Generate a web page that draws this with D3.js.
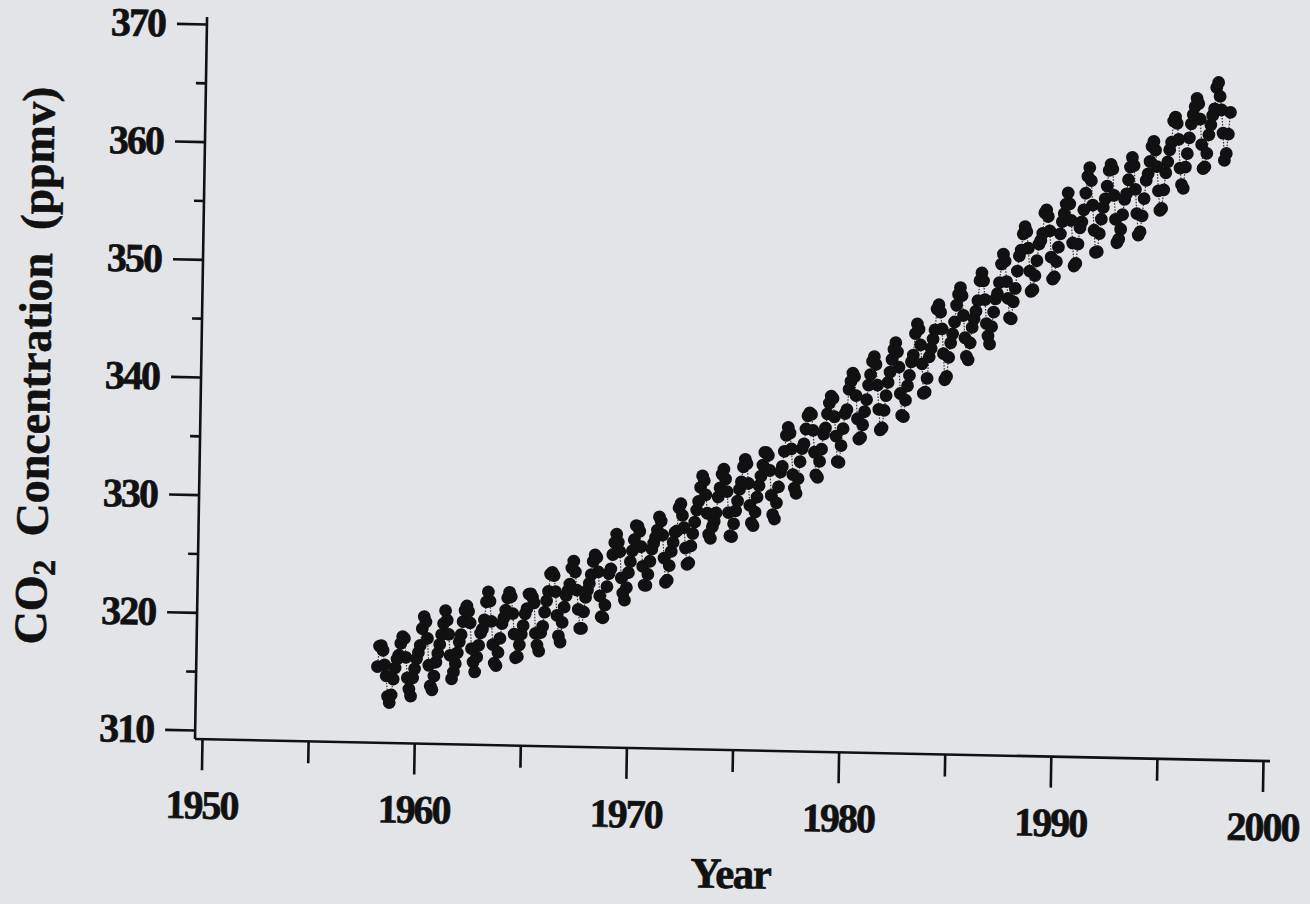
<!DOCTYPE html>
<html><head><meta charset="utf-8">
<script src="https://cdn.jsdelivr.net/npm/d3@7"></script>
<style>
html,body{margin:0;padding:0;background:#e3e4e8;}
svg{display:block;}
</style>
</head><body>
<svg id="chart" width="1310" height="904"></svg>
<script>
// Monthly CO2 at Mauna Loa (ppmv), Jan..Dec for each year; null = no data
const co2_1958_1959 = [
  null,null,315.71,317.45,317.50,317.10,315.86,314.93,313.20,312.66,313.33,314.67,
  315.62,316.38,316.71,317.72,318.29,318.15,316.54,314.80,313.84,313.26,314.80,315.58
];
const co2_1960s = [
  316.43,316.97,317.58,319.02,320.03,319.59,318.18,315.91,314.16,313.83,315.00,316.19,
  316.93,317.70,318.54,319.48,320.58,319.77,318.57,316.79,314.80,315.38,316.10,317.01,
  317.94,318.56,319.68,320.63,321.01,320.55,319.58,317.40,316.26,315.42,316.69,317.69,
  318.74,319.08,319.86,321.39,322.25,321.47,319.74,317.77,316.21,315.99,317.12,318.31,
  319.57,320.07,320.73,321.77,322.25,321.89,320.44,318.70,316.70,316.79,317.79,318.71,
  319.44,320.44,320.89,322.13,322.16,321.87,321.39,318.81,317.81,317.30,318.87,319.42,
  320.62,321.59,322.39,323.87,324.01,323.75,322.39,320.37,318.64,318.10,319.79,321.08,
  322.07,322.50,323.04,324.42,325.00,324.09,322.55,320.92,319.31,319.31,320.72,321.96,
  322.57,323.15,323.89,325.02,325.57,325.36,324.14,322.11,320.33,320.25,321.32,322.90,
  324.00,324.42,325.64,326.66,327.38,326.70,325.89,323.67,322.38,321.78,322.85,324.12
];
const co2_1970s = [
  325.06,325.98,326.93,328.13,328.07,327.66,326.35,324.69,323.10,323.07,324.01,325.13,
  326.17,326.68,327.18,327.78,328.92,328.57,327.37,325.43,323.36,323.56,324.80,326.01,
  326.77,327.63,327.75,329.72,330.07,329.09,328.05,326.32,324.93,325.06,326.50,327.55,
  328.54,329.56,330.30,331.50,332.48,332.07,330.87,329.31,327.51,327.18,328.16,328.64,
  329.35,330.71,331.48,332.65,333.09,332.25,331.18,329.40,327.43,327.37,328.46,329.57,
  330.40,331.40,332.04,333.31,333.96,333.59,331.91,330.06,328.56,328.34,329.49,330.76,
  331.75,332.56,333.50,334.58,334.57,334.34,333.05,330.94,329.30,328.94,330.31,331.68,
  332.93,333.42,334.70,336.07,336.75,336.27,334.92,332.75,331.59,331.16,332.40,333.85,
  334.97,335.38,336.64,337.76,338.01,337.89,336.54,334.68,332.76,332.55,333.92,334.95,
  336.23,336.76,337.96,338.88,339.47,339.29,337.73,336.09,333.92,333.86,335.29,336.73
];
const co2_1980s = [
  338.01,338.36,340.08,340.77,341.46,341.17,339.56,337.60,335.88,336.02,337.10,338.21,
  339.24,340.48,341.38,342.51,342.91,342.25,340.49,338.43,336.69,336.86,338.36,339.61,
  340.75,341.61,342.70,343.56,344.13,343.35,342.06,339.82,337.97,337.86,339.26,340.49,
  341.38,342.52,343.10,344.94,345.76,345.32,343.98,342.38,339.87,339.99,341.15,342.99,
  343.70,344.50,345.28,347.06,347.43,346.80,345.39,343.28,341.07,341.35,342.98,344.22,
  344.97,345.99,347.42,348.35,348.93,348.25,346.56,344.67,343.09,342.80,344.24,345.56,
  346.30,346.95,347.85,349.55,350.21,349.54,347.94,345.91,344.86,344.17,345.66,346.90,
  348.02,348.47,349.42,350.99,351.84,351.25,349.52,348.10,346.44,346.36,347.81,348.96,
  350.43,351.72,352.22,353.59,354.22,353.79,352.39,350.44,348.72,348.88,350.07,351.34,
  352.76,353.07,353.68,355.42,355.67,355.12,353.90,351.67,349.80,349.99,351.30,352.53
];
const co2_1990s = [
  353.66,354.70,355.39,356.20,357.16,356.22,354.82,352.91,350.96,351.18,352.83,354.21,
  354.72,355.75,357.16,358.60,359.34,358.24,356.17,354.03,352.16,352.21,353.75,354.99,
  355.98,356.72,357.81,359.15,359.66,359.25,357.02,355.00,353.01,353.31,354.16,355.40,
  356.70,357.17,358.38,359.46,360.28,359.60,357.57,355.52,353.70,353.98,355.33,356.80,
  358.36,358.91,359.97,361.26,361.69,360.94,359.55,357.49,355.84,356.00,357.58,359.04,
  359.97,361.00,361.64,363.45,363.79,363.26,361.90,359.46,358.06,357.75,359.56,360.70,
  362.05,363.24,364.02,364.71,365.41,364.97,363.65,361.49,359.46,359.60,360.76,362.33,
  363.18,363.99,364.56,366.36,366.80,365.63,364.47,362.50,360.19,360.78,362.43,364.28
];
const firstYear = 1958;

const xMajorTicks = [1950, 1960, 1970, 1980, 1990, 2000];
const xMinorTicks = [1955, 1965, 1975, 1985, 1995];
const yMajorTicks = [310, 320, 330, 340, 350, 360, 370];
const yMinorTicks = [315, 325, 335, 345, 355, 365];
const xTitle = "Year";

// build series
const allValues = [].concat(co2_1958_1959, co2_1960s, co2_1970s, co2_1980s, co2_1990s);
const series = allValues.map((v, i) => ({
  t: firstYear + Math.floor(i / 12) + ((i % 12) + 0.5) / 12,
  v: v
})).filter(d => d.v != null);

const svg = d3.select("#chart");
svg.append("rect").attr("width", 1310).attr("height", 904).attr("fill", "#e3e4e8");

// the scanned figure is slightly skewed
const g = svg.append("g")
  .attr("transform", "translate(195,739) matrix(1,0.0206,-0.0167,1,0,0)");

const x = d3.scaleLinear().domain([1950, 2000]).range([7, 1068]);
const y = d3.scaleLinear().domain([310, 370]).range([-9, -715]);

const ink = "#111";
const fontFam = "'Liberation Serif','Times New Roman',serif";

// axis lines
g.append("line").attr("x1", 0).attr("y1", 0).attr("x2", 1075).attr("y2", 0)
  .attr("stroke", ink).attr("stroke-width", 2.6);
g.append("line").attr("x1", 0).attr("y1", 0).attr("x2", 0).attr("y2", -722)
  .attr("stroke", ink).attr("stroke-width", 2.6);

function styleAxis(sel) {
  sel.select(".domain").remove();
  sel.selectAll(".tick line").attr("stroke", ink).attr("stroke-width", 2.6);
  sel.selectAll(".tick text")
    .attr("fill", ink)
    .attr("stroke", ink)
    .attr("stroke-width", 0.7)
    .style("font-family", fontFam)
    .style("font-weight", "bold")
    .style("font-size", "40px")
    .style("letter-spacing", "-2px");
}

g.append("g").call(d3.axisBottom(x).tickValues(xMinorTicks).tickSize(22).tickFormat(""))
  .call(styleAxis);
g.append("g").call(d3.axisBottom(x).tickValues(xMajorTicks).tickSize(31).tickPadding(20).tickFormat(d3.format("d")))
  .call(styleAxis);
g.append("g").call(d3.axisLeft(y).tickValues(yMinorTicks).tickSize(10).tickFormat(""))
  .call(styleAxis);
g.append("g").call(d3.axisLeft(y).tickValues(yMajorTicks).tickSize(30).tickPadding(12).tickFormat(d3.format("d")))
  .call(styleAxis);

// x title
g.append("text")
  .attr("x", x(1975)).attr("y", 138)
  .attr("text-anchor", "middle")
  .attr("fill", ink)
  .attr("stroke", ink).attr("stroke-width", 0.7)
  .style("font-family", fontFam).style("font-weight", "bold")
  .style("font-size", "43px").style("letter-spacing", "-1.5px")
  .text(xTitle);

// y title
const yt = g.append("text")
  .attr("transform", "translate(-151,-370) rotate(-90)")
  .attr("text-anchor", "middle")
  .attr("fill", ink)
  .attr("stroke", ink).attr("stroke-width", 0.6)
  .style("font-family", fontFam).style("font-weight", "bold")
  .style("font-size", "46px");
yt.append("tspan").text("CO");
yt.append("tspan").attr("dy", 8).style("font-size", "32px").text("2");
yt.append("tspan").attr("dy", -8).text("\u00A0\u00A0Concentration\u00A0\u00A0(ppmv)");

// connecting dotted line
const line = d3.line().x(d => x(d.t)).y(d => y(d.v));
g.append("path").datum(series)
  .attr("d", line)
  .attr("fill", "none")
  .attr("stroke", "#333")
  .attr("stroke-width", 1.2)
  .attr("stroke-dasharray", "1.5,1.5");

// dots
g.append("g").selectAll("circle").data(series).join("circle")
  .attr("cx", d => x(d.t))
  .attr("cy", d => y(d.v))
  .attr("r", 6.4)
  .attr("fill", ink);
</script>
</body></html>
